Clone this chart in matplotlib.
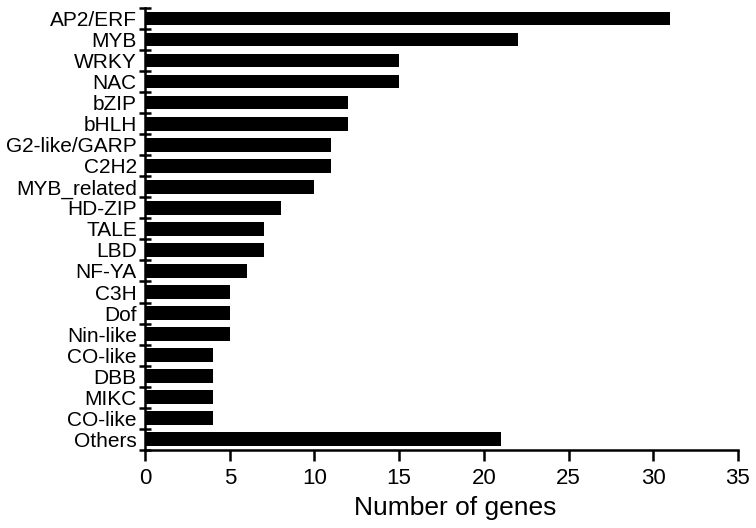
import matplotlib.pyplot as plt
import numpy as np

plt.rcParams['font.family'] = ['Liberation Sans', 'DejaVu Sans']

families = ["AP2/ERF", "MYB", "WRKY", "NAC", "bZIP", "bHLH", "G2-like/GARP", "C2H2",
            "MYB_related", "HD-ZIP", "TALE", "LBD", "NF-YA", "C3H", "Dof", "Nin-like",
            "CO-like", "DBB", "MIKC", "CO-like", "Others"]
genes = [31, 22, 15, 15, 12, 12, 11, 11, 10, 8, 7, 7, 6, 5, 5, 5, 4, 4, 4, 4, 21]

fig = plt.figure(figsize=(7.56, 5.28), dpi=100)
ax = fig.add_axes([0.192, 0.148, 0.784, 0.837])

y = np.arange(len(families))
ax.barh(y, genes, height=0.65, color='black')
ax.set_ylim(len(families) - 0.5, -0.5)
ax.set_xlim(0, 35)
ax.set_xticks(range(0, 36, 5))

# category labels between boundary ticks
ax.set_yticks(y)
ax.set_yticklabels(families, fontsize=15)
ax.tick_params(axis='y', which='major', length=0, pad=6)
ax.set_yticks(np.arange(len(families) + 1) - 0.5, minor=True)
ax.tick_params(axis='y', which='minor', length=9, width=1.8, direction='inout')

ax.tick_params(axis='x', labelsize=16, length=8, width=1.8, pad=5)
ax.set_xlabel("Number of genes", fontsize=19, labelpad=5)
ax.xaxis.label.set_x(0.523)

for s in ['top', 'right']:
    ax.spines[s].set_visible(False)
for s in ['left', 'bottom']:
    ax.spines[s].set_linewidth(1.8)

fig.savefig("out.png", dpi=100)
